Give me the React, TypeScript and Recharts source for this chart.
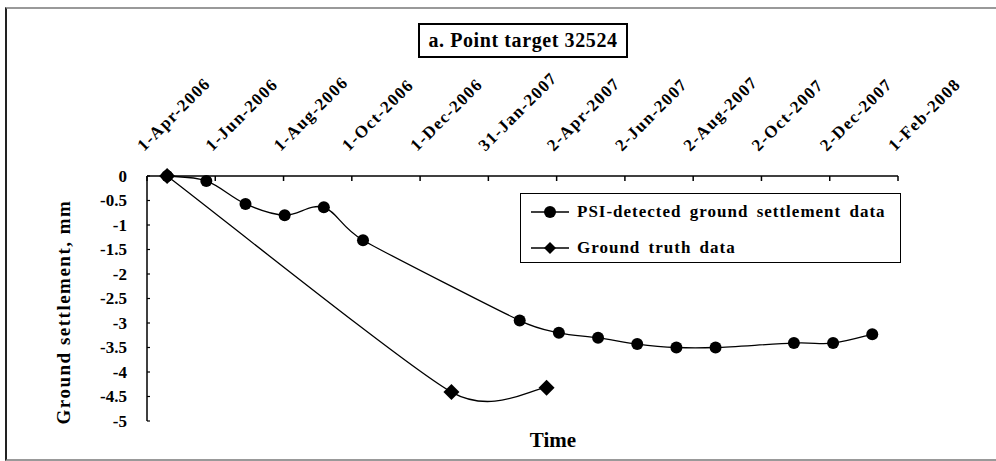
import React from "react";
import { LineChart, Line, XAxis, YAxis } from "recharts";

const SERIF = '"Liberation Serif", "Times New Roman", serif';

const START = "2006-04-01";

// SAR acquisition dates (35-day cycle) and settlement
const psiDates = [
  "2006-04-19",
  "2006-05-24",
  "2006-06-28",
  "2006-08-02",
  "2006-09-06",
  "2006-10-11",
  "2007-02-28",
  "2007-04-04",
  "2007-05-09",
  "2007-06-13",
  "2007-07-18",
  "2007-08-22",
  "2007-10-31",
  "2007-12-05",
  "2008-01-09",
];
const psiValues = [
  0, -0.1, -0.57, -0.8, -0.64, -1.31, -2.95, -3.2, -3.3, -3.43, -3.5, -3.5,
  -3.41, -3.41, -3.23,
];

const truthDates = ["2006-04-19", "2006-12-29", "2007-03-24"];
const truthValues = [0, -4.41, -4.32];

const tickDates = [
  "2006-04-01",
  "2006-06-01",
  "2006-08-01",
  "2006-10-01",
  "2006-12-01",
  "2007-01-31",
  "2007-04-02",
  "2007-06-02",
  "2007-08-02",
  "2007-10-02",
  "2007-12-02",
  "2008-02-01",
];
const tickLabels = [
  "1-Apr-2006",
  "1-Jun-2006",
  "1-Aug-2006",
  "1-Oct-2006",
  "1-Dec-2006",
  "31-Jan-2007",
  "2-Apr-2007",
  "2-Jun-2007",
  "2-Aug-2007",
  "2-Oct-2007",
  "2-Dec-2007",
  "1-Feb-2008",
];

const yTicks = [0, -0.5, -1, -1.5, -2, -2.5, -3, -3.5, -4, -4.5, -5];

const toDay = (s: string) =>
  Math.round((Date.parse(s) - Date.parse(START)) / 86400000);

const psiData = psiDates.map((d, i) => ({ day: toDay(d), value: psiValues[i] }));
const truthData = truthDates.map((d, i) => ({
  day: toDay(d),
  value: truthValues[i],
}));
const xTicks = tickDates.map(toDay);
const labelByDay: Record<number, string> = {};
xTicks.forEach((t, i) => (labelByDay[t] = tickLabels[i]));

// Excel-style smoothed line: bezier with tangent limited by neighbour distances
const excelSmooth = (context: any) => {
  let pts: number[][] = [];
  return {
    areaStart() {},
    areaEnd() {},
    lineStart() {
      pts = [];
    },
    point(x: number, y: number) {
      pts.push([+x, +y]);
    },
    lineEnd() {
      const n = pts.length;
      if (!n) return;
      context.moveTo(pts[0][0], pts[0][1]);
      if (n === 1) return;
      const tan = pts.map((p, i) => {
        const a = pts[Math.max(i - 1, 0)];
        const b = pts[Math.min(i + 1, n - 1)];
        const dx = b[0] - a[0];
        const dy = b[1] - a[1];
        const d = Math.hypot(dx, dy) || 1;
        let f = 1 / 6;
        if (i > 0 && i < n - 1) {
          const d0 = Math.hypot(p[0] - a[0], p[1] - a[1]);
          const d1 = Math.hypot(b[0] - p[0], b[1] - p[1]);
          f = Math.min(f, d0 / (2 * d), d1 / (2 * d));
        }
        return [dx * f, dy * f];
      });
      for (let i = 0; i < n - 1; i++) {
        const p0 = pts[i];
        const p1 = pts[i + 1];
        context.bezierCurveTo(
          p0[0] + tan[i][0],
          p0[1] + tan[i][1],
          p1[0] - tan[i + 1][0],
          p1[1] - tan[i + 1][1],
          p1[0],
          p1[1],
        );
      }
    },
  };
};

const CircleDot = (props: any) => {
  const { cx, cy, index } = props;
  if (cx == null || cy == null) return null;
  return <circle key={`c-${index}`} cx={cx} cy={cy} r={6} fill="#000" />;
};

const DiamondDot = (props: any) => {
  const { cx, cy, index } = props;
  if (cx == null || cy == null) return null;
  const s = 8;
  return (
    <polygon
      key={`d-${index}`}
      points={`${cx},${cy - s} ${cx + s},${cy} ${cx},${cy + s} ${cx - s},${cy}`}
      fill="#000"
    />
  );
};

const TopTick = (props: any) => {
  const { x, y, payload } = props;
  const label = labelByDay[payload.value] ?? "";
  return (
    <g>
      <line x1={x} y1={y} x2={x} y2={y + 5} stroke="#000" strokeWidth={1.5} />
      <text
        x={x - 3}
        y={y - 24}
        transform={`rotate(-45, ${x - 3}, ${y - 24})`}
        textAnchor="start"
        fontFamily={SERIF}
        fontWeight="bold"
        fontSize={17}
        letterSpacing={1.3}
        fill="#000"
      >
        {label}
      </text>
    </g>
  );
};

const LeftTick = (props: any) => {
  const { x, y, payload } = props;
  return (
    <g>
      <line x1={x} y1={y} x2={x + 3} y2={y} stroke="#000" strokeWidth={1.2} />
      <text
        x={x - 20}
        y={y}
        dy="0.35em"
        textAnchor="end"
        fontFamily={SERIF}
        fontWeight="bold"
        fontSize={17}
        fill="#000"
      >
        {String(payload.value)}
      </text>
    </g>
  );
};

const LegendRow = ({ diamond, text }: { diamond?: boolean; text: string }) => (
  <div style={{ display: "flex", alignItems: "center", height: 36 }}>
    <svg width={42} height={16} style={{ marginRight: 5 }}>
      <line x1={1} y1={8} x2={39} y2={8} stroke="#000" strokeWidth={1.5} />
      {diamond ? (
        <polygon points="20,2 26,8 20,14 14,8" fill="#000" />
      ) : (
        <circle cx={20} cy={8} r={6} fill="#000" />
      )}
    </svg>
    <span>{text}</span>
  </div>
);

export default function App() {
  return (
    <div
      style={{
        position: "absolute",
        left: 0,
        top: 0,
        width: 996,
        height: 461,
        overflow: "hidden",
        background: "#fff",
      }}
    >
      {/* scanned figure frame */}
      <div
        style={{
          position: "absolute",
          left: 5,
          top: 7,
          width: 1100,
          height: 450,
          borderLeft: "2px solid #222",
          borderTop: "2px solid #999",
          borderBottom: "2px solid #999",
        }}
      />
      <div style={{ position: "absolute", left: 0, top: 0 }}>
        <LineChart
          width={996}
          height={461}
          margin={{ top: 146, right: 98, bottom: 40, left: 0 }}
        >
          <XAxis
            dataKey="day"
            type="number"
            orientation="top"
            domain={[0, xTicks[xTicks.length - 1]]}
            ticks={xTicks}
            interval={0}
            allowDataOverflow
            height={30}
            tickSize={0}
            tickMargin={0}
            tickLine={false}
            stroke="#000"
            strokeWidth={1.5}
            tick={<TopTick />}
          />
          <YAxis
            type="number"
            domain={[-5, 0]}
            ticks={yTicks}
            interval={0}
            width={147}
            tickSize={0}
            tickMargin={0}
            tickLine={false}
            stroke="#000"
            strokeWidth={1.5}
            tick={<LeftTick />}
          />
          <Line
            data={truthData}
            dataKey="value"
            type={excelSmooth as any}
            stroke="#000"
            strokeWidth={1.3}
            dot={DiamondDot}
            activeDot={false}
            isAnimationActive={false}
          />
          <Line
            data={psiData}
            dataKey="value"
            type={excelSmooth as any}
            stroke="#000"
            strokeWidth={1.3}
            dot={CircleDot}
            activeDot={false}
            isAnimationActive={false}
          />
        </LineChart>
      </div>

      {/* title box */}
      <div
        style={{
          position: "absolute",
          left: 418,
          top: 23,
          width: 206,
          height: 31,
          border: "2px solid #000",
          fontFamily: SERIF,
          fontWeight: "bold",
          fontSize: 20,
          letterSpacing: 0.6,
          lineHeight: "31px",
          textAlign: "center",
          whiteSpace: "nowrap",
        }}
      >
        a. Point target 32524
      </div>

      {/* legend */}
      <div
        style={{
          position: "absolute",
          left: 520,
          top: 193,
          width: 370,
          height: 68,
          border: "1.5px solid #000",
          paddingLeft: 9,
          fontFamily: SERIF,
          fontWeight: "bold",
          fontSize: 17,
          letterSpacing: 1,
          wordSpacing: 3,
          whiteSpace: "nowrap",
        }}
      >
        <LegendRow text="PSI-detected ground settlement data" />
        <LegendRow diamond text="Ground truth data" />
      </div>

      {/* y axis title */}
      <div
        style={{
          position: "absolute",
          left: 64,
          top: 312,
          transform: "translate(-50%, -50%) rotate(-90deg)",
          fontFamily: SERIF,
          fontWeight: "bold",
          fontSize: 19,
          letterSpacing: 1.5,
          whiteSpace: "nowrap",
        }}
      >
        Ground settlement, mm
      </div>

      {/* x axis title */}
      <div
        style={{
          position: "absolute",
          left: 553,
          top: 440,
          transform: "translate(-50%, -50%)",
          fontFamily: SERIF,
          fontWeight: "bold",
          fontSize: 21,
          whiteSpace: "nowrap",
        }}
      >
        Time
      </div>
    </div>
  );
}
